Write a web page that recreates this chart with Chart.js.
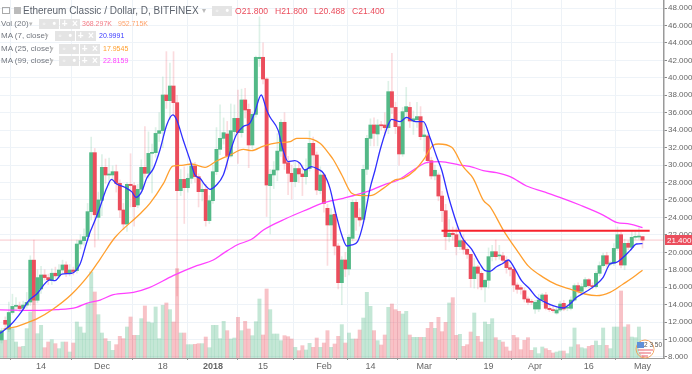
<!DOCTYPE html>
<html><head><meta charset="utf-8">
<style>
html,body{margin:0;padding:0;background:#fff;overflow:hidden;width:692px;height:374px}
#wrap{position:relative;width:692px;height:374px;font-family:"Liberation Sans",Arial,sans-serif}
canvas{position:absolute;left:0;top:0}
.t{position:absolute;white-space:nowrap;line-height:12px;color:#73777f;font-size:8px}
.b{position:absolute;width:10px;height:10px;background:#e4e4e4;color:#fff;font-size:10px;line-height:10px;text-align:center;font-weight:bold}
</style></head><body>
<div id="wrap"><canvas id="c" width="692" height="374"></canvas>
<div id="legend"></div></div>
<script src="https://cdn.jsdelivr.net/npm/chart.js@4"></script>
<script>
const tickDays=[12,29,46,60,74,91,104,119,137,150,165,180];
const tickLabels=["14","Dec","18","2018","15","Feb","14","Mar","19","Apr","16","May"];
const opens=[9.6,9.95,12.2,11.2,13.1,13.8,13.85,13.6,13.95,14.3,
19.1,14.5,15.8,17.4,17.1,16.75,17.6,17.3,17.97,18.55,
17.6,17.97,17.9,20.95,21.33,21.8,24.66,31.42,24,25.96,
29.74,28.86,28.86,29.24,27.9,24.85,23.24,27.79,27.64,25.42,
27.22,29.74,29.05,31.34,31.42,33.63,33.94,38.03,37.38,39.06,
37.15,27.06,28.36,27.41,28.48,29.89,28.67,26.95,27.22,23.63,
25.92,29.24,31.8,33.06,33.56,31.04,33.83,35.35,33.71,37.46,
36.38,32.3,35.81,42.2,42.35,39.86,27.64,28.86,29.43,31.6,
34.9,30.27,29.05,28.1,29.6,28.98,28.67,29.6,32.49,31.15,
27.07,28.86,25.04,23.13,24.35,20.72,16.52,19.12,18.09,21.6,
25.73,24,23.78,29.51,33.06,34.59,33.56,34.59,34.59,34.28,
38.41,36.61,34.4,31.27,36.12,36.61,35.05,35.2,35.55,33.25,
33.33,30.5,28.75,28.86,26.45,24.77,21.79,22.18,22.02,20.65,
21.33,20.34,19.77,16.98,18.32,17.59,16.03,16.79,19.5,20.07,
19.58,19.6,19.08,18.24,18.05,16.25,15.95,15.6,14.65,14.38,
13.5,13.5,14.53,15.11,13.58,13.43,13.04,13.39,14.15,13.6,
13.58,14.53,16.18,15.53,16.06,16.86,16.18,16.06,17.59,18.47,
19.61,18.66,18.74,20.45,22.02,18.54,21.03,20.57,21.72,21.75,
21.8];
const closes=[9.95,11,11.75,13.1,13.8,13.85,13.55,13.95,14.25,19.1,
14.5,17.1,17.4,17.1,16.85,17.6,17.3,17.97,18.55,17.6,
17.97,17.8,20.95,21.33,21.79,24.66,31.42,24.3,26,29.74,
28.86,28.95,29.24,27.9,24.85,23.24,27.79,27.65,25.23,27.22,
29.74,29.05,31.34,31.42,33.63,33.94,38.03,37.38,39.06,37.15,
27.06,28.36,27.41,28.48,29.89,28.67,26.95,27.22,23.63,25.92,
29.24,31.8,33.06,33.71,31.04,33.94,35.35,33.71,37.46,36.31,
32.3,35.81,42.35,42.35,39.86,27.71,28.94,29.43,31.6,34.9,
30.2,29.05,28.1,29.6,28.98,28.67,29.5,32.49,31.15,27.14,
28.86,25.6,23.13,24.28,20.72,16.52,19.12,18.09,21.72,25.73,
24,23.7,29.51,33.06,34.59,33.63,34.59,34.5,34.28,38.41,
36.61,34.4,31.27,36.12,36.69,35.05,35.3,35.55,33.25,33.45,
30.5,28.75,29.4,26.45,24.77,21.79,22.18,22.02,20.65,21.33,
20.34,19.77,16.98,18.32,17.59,16.03,16.79,19.5,20.07,19.5,
19.69,19.08,18.24,18.05,16.25,15.76,15.76,14.65,14.27,14.27,
14.27,14.53,15.11,13.58,13.43,13.31,13.39,14.07,13.5,13.7,
14.53,16.18,15.53,16.06,16.86,16.18,16.06,17.59,18.47,19.61,
18.66,18.74,20.45,22.02,18.54,21.03,20.57,21.72,21.8,21.8,
21.4];
const highs=[10.2,11.3,12.6,14.3,15.2,14.8,14.3,14.4,15.4,19.6,
21.4,18,18.4,18,17.5,18.1,18.3,18.6,19.1,18.9,
18.6,18.3,21.4,22,22.7,25.6,33.2,31.9,26.9,31.2,
30.7,30.8,29.9,30,28.3,25.6,28,31.3,28,27.8,
30.6,34.4,33.8,32.4,34.3,36,40.1,43,41.7,43,
38,29.5,29.8,29,30.3,30.3,29,28,27.8,26.5,
30,34.3,36.9,35.4,35,37,36.9,38.6,38.7,38.8,
37,36.1,42.5,47,44,40,29.5,30.4,33.6,35.2,
36,31,30,30.3,30.3,30,30.7,33.9,33.2,31.5,
29.8,29,25.5,25,25.2,21,19.5,20,22,26,
26,25,30,33.4,35.3,35.4,35.2,35,36,39.6,
42.8,37.2,34.7,36.6,38.9,37.2,36.2,37.2,36.7,34.9,
33.5,30.9,30,29.1,27,25.5,23.8,22.9,22.8,22,
22,20.5,19.8,19.3,18.5,17.8,16.9,20.5,20.8,21.4,
20.8,20,19.5,18.5,18.2,16.5,16.2,15.9,14.9,14.6,
14.5,15.2,15.3,15.4,13.9,13.8,13.7,14.4,14.5,14,
14.9,16.4,16.5,16.4,17.1,17,16.5,17.8,18.9,19.9,
20,19,21,22.9,22.3,21.5,21.3,22.4,22.5,22.8,
21.8];
const lows=[9.2,9.6,11.2,10.9,12.9,13.3,13.2,13.3,13.6,13.9,
14,14.2,15.3,16.8,16.3,16.3,17,17,17.6,17.2,
17.3,17.4,17.6,20.4,20.8,21.4,23.7,20.6,21.5,24.2,
27.9,27.7,28.2,26.9,24,22.6,22.4,25.2,23,25.1,
26.7,28.6,28.5,26.8,30.9,32.7,32,36.5,35.2,35.7,
15,26.5,23.3,26.9,27.9,28,25.2,25.9,23,23.3,
25.6,28.9,31.2,32.4,29.5,30.9,33.3,30.2,33.2,35.4,
29.7,31.9,35.5,41.3,39.3,24.1,22.1,27.3,28.2,31,
29.5,26.6,26.1,27.5,28,26.5,27.8,29.3,30,26.6,
26.7,24.6,18.5,21.5,19.7,15.8,14,17.2,17.4,21.3,
22.5,23,23.4,28.9,32.2,32.2,32.2,34,33.4,33.6,
35.9,33.6,30,31,35.2,34.3,33.5,34.3,32.9,31.6,
30.2,28.4,28.3,25.9,23.5,20.3,21.2,21.4,19.7,20.3,
19.8,19.3,16,15.9,15.8,15.7,14.3,15.9,19,19.1,
19.2,18.8,17.6,17.3,15.5,15.3,15.2,14.3,14,14,
13,13.2,14.2,13.4,13.2,13.1,12.9,13.2,13.3,13.3,
13.4,14.4,15.3,15.4,15.9,16,15.8,15.9,17.3,18.3,
18.3,18.5,18.5,20.2,18.2,18,20.3,20.4,21.5,21.5,
20.488];
const volumes=[500,693,693,1608,1150,627,431,457,1150,1804,
2235,954,1281,405,627,719,562,366,627,627,
235,588,1412,1215,980,2130,3372,2588,1699,980,
758,654,301,523,850,758,1215,1608,889,889,
1542,2039,1412,1372,2000,758,2065,2157,1895,1412,
3503,980,980,523,523,536,562,562,823,405,
1281,1281,758,1438,1072,745,784,1595,1072,1438,
1137,876,1425,2313,902,2705,1895,941,941,680,
876,836,745,418,288,484,314,575,418,784,
418,588,1072,418,549,850,1307,588,980,745,
745,1098,1568,2575,2026,1072,680,510,902,1987,
2117,1895,1830,1725,1830,902,810,810,810,810,
1163,1398,1163,1595,1032,1398,2157,2366,889,928,
457,523,1019,1764,850,627,1412,1320,1542,797,
693,627,431,274,889,797,327,693,797,301,
405,170,431,366,301,196,235,274,274,170,
431,1176,523,405,366,457,497,667,497,1176,
497,366,1215,1215,2627,1215,1307,823,797,1215,
368];
const ma7Days=[0.5,3.3,6.6,8.4,10.8,14.5,15.9,17.8,20.5,22.9,24.6,25.5,27.1,28.5,30.3,31.7,33.1,35.4,37.3,38.5,40.1,41.5,43.4,45.2,47.1,48.8,49.9,51.7,53.6,55,56.4,57.8,59.2,61,62.9,64.7,66.5,68.4,70.3,71.6,73.5,75,75.9,78.2,79.6,81,82.9,84.3,85.7,87.5,89.4,90.9,92.7,94.1,96,97.4,98.8,100.4,102,103.9,105.3,106.7,108.4,109.9,112.3,114.1,116.5,118.8,120.7,122.5,123.9,125.8,129.5,132.2,134.6,136,137.4,139.2,141.1,142.5,144.1,146.2,148.5,150.4,152.3,155,157.9,159.7,161.6,164.4,166.7,169,170.9,172.7,174.6,176.5,178.3,180];
const ma7Values=[10.71,11.6,13.23,14.38,15.22,16.83,16.75,17.51,17.59,18.66,20.95,22.1,23.7,25.23,27.33,28.36,27.83,27.45,26.95,26.3,26.95,28.48,29.62,31.72,34.59,35.74,35.16,32.87,30.58,28.86,28.48,27.71,27.22,27.71,28.86,31.34,33.44,34.4,34.78,35.93,38.03,36.31,35.54,34,31.72,30.39,30.5,30.2,29.43,29.81,29.51,29.05,27.33,24.85,21.98,20.72,20.84,21.22,23.32,27.33,29.43,31.72,34,35.24,34.97,35.47,34.97,34.97,33.06,30.96,29.43,26.37,21.79,20.38,18.66,17.9,17.82,18.35,18.74,19.12,18.28,16.75,15.79,14.84,14.38,13.88,13.62,14.07,14.84,15.53,16.18,17.13,18.66,18.85,19.42,20.19,20.95,20.9991];
const ma25Days=[1.5,5.2,8.4,10.8,15.4,20.6,25.7,28.5,32.7,39.6,42.4,46.2,48.8,51.3,54,57.8,61,64.8,68.5,70.8,74.1,78.3,81.6,83.4,86.2,89.9,92.7,93.7,96,98.8,101.6,103.9,107.6,110.9,113.2,116.5,118.8,121.6,123,126.7,129.9,132.7,135.5,137.4,141.1,145.3,148,152.3,156,160.2,163.9,167.2,170.9,174.6,177.4,180];
const ma25Values=[11.2,11.48,11.97,12.36,13.5,15.22,17.59,19.23,21.72,24.39,25.61,27.9,29.89,29.97,30.12,29.74,30.46,31.15,31.8,31.65,32.18,32.56,32.68,33.06,33.06,32.49,31.15,30.58,28.86,26.76,26.49,26.49,27.33,28.29,28.48,29.43,30.58,32.3,32.41,32.03,29.81,28.48,25.99,25.23,22.55,20,18.47,17.13,16.29,15.72,15.22,15.03,15.41,16.37,17.13,17.9545];
const ma99Days=[0.5,9.8,16.4,21.9,24.7,28.5,32.2,37.8,42.4,48.9,55.5,60.1,62.9,66.7,70.8,74.1,80.6,87.1,90.4,96.4,103,107.6,111.8,116,119.7,123.4,129,132.7,135.5,139.2,143,147.6,152.3,156.9,162.5,169,172.7,176.5,180];
const ma99Values=[13.39,13.35,13.43,13.69,14.15,14.53,15.15,15.41,15.98,17.32,18.47,19.12,19.88,20.84,21.49,22.56,23.9,25.04,25.61,26.19,26.95,27.71,28.29,29.43,30.27,30.39,30,29.74,29.35,29.13,28.67,27.6,26.95,26.3,25.42,24.27,23.43,23.24,22.8159];
const volMaDays=[0.5,3.3,6.1,8.9,11.7,16.4,21.9,24.7,27.1,29.4,32.2,35,38.7,41.5,43.8,46.2,48.9,51.3,55.5,60.1,64.8,67.6,71.3,76,80.6,86.2,91.8,95.5,99.2,103,107.6,111.3,114.1,118.8,121.6,123.4,127.1,130.8,135.5,139.2,143.4,147.6,151.3,156,159.7,163.4,168.1,172.7,175.5,180];
const volMaValues=[274,497,471,693,863,980,980,1150,1255,1150,1085,1111,1215,1372,1412,1281,1281,1451,1412,1281,1176,1072,941,1307,1229,1072,941,745,680,810,1006,1202,1398,1372,1425,1281,1477,1255,1150,1281,1124,823,797,588,405,497,471,627,850,952.7];
const lastClose=21.4, resistance=22.48;
const lineDays=[0.53,186], resistanceDays=[123.85,182];
const priceTicks=[48,46,44,42,40,38,36,34,32,30,28,26,24,22,20,18,16,14,12,10,8];

const up='#53b987', dn='#eb4d5c';
const isUp=i=>closes[i]>=opens[i];
const pts=(d,v)=>d.map((x,i)=>({x,y:v[i]}));
const days=opens.map((_,i)=>i);
const maLine=(label,d,v,color,w,order)=>({type:'line',label,data:pts(d,v),borderColor:color,borderWidth:w,pointRadius:0,cubicInterpolationMode:'monotone',order,yAxisID:'y'});

const overlay={id:'overlay',afterDraw(ch){
  const c=ch.ctx,y=ch.scales.y,py=y.getPixelForValue(lastClose),a=ch.chartArea;
  c.save();
  c.fillStyle=dn;c.fillRect(a.right+1,Math.round(py)-5,27,10);
  c.fillStyle='#fff';c.font='8px "Liberation Sans"';c.textBaseline='middle';c.textAlign='left';
  c.fillText(lastClose.toFixed(3),a.right+3,py+0.5);
  // watermark badge, bottom right of the volume pane
  const bx=a.right-19,by=a.bottom-9;
  c.beginPath();c.arc(bx,by,9,0,Math.PI*2);c.strokeStyle='#f3a35f';c.lineWidth=1;c.stroke();
  c.beginPath();c.arc(bx+1,by,7.5,0,Math.PI*2);c.fillStyle='rgba(255,255,255,.85)';c.fill();
  c.fillStyle='#5f8fd8';c.fillRect(bx-8,by-7,7,6);
  c.strokeStyle='#e8616c';c.lineWidth=1.2;
  c.beginPath();c.moveTo(bx-7,by+1);c.lineTo(bx+8,by+1);c.moveTo(bx-6,by+4);c.lineTo(bx+6,by+4);c.moveTo(bx-3,by+7);c.lineTo(bx+3,by+7);c.stroke();
  c.fillStyle='#555';c.font='6.5px "Liberation Sans"';c.textAlign='left';c.fillText('2 3 50',bx-1,by-4);
  c.restore();
}};

new Chart(document.getElementById('c'),{
  type:'bar',
  data:{datasets:[
    {label:'Volume',yAxisID:'vol',data:days.map(i=>({x:i,y:volumes[i]})),barThickness:3.3,grouped:false,order:9,
      backgroundColor:days.map(i=>isUp(i)?'rgba(83,185,135,.34)':'rgba(235,77,92,.34)')},
    maLine('Vol MA',volMaDays,volMaValues,'rgba(255,152,80,.5)',1,8),
    {label:'Wick',yAxisID:'y',data:days.map(i=>({x:i,y:[lows[i],highs[i]]})),barThickness:1,grouped:false,order:7,
      backgroundColor:days.map(i=>isUp(i)?'rgba(83,185,135,.2)':'rgba(235,77,92,.2)')},
    {type:'line',label:'Last',data:pts(lineDays,[lastClose,lastClose]),borderColor:'rgba(235,77,92,.32)',borderWidth:1,pointRadius:0,order:6,yAxisID:'y'},
    {label:'Body',yAxisID:'y',data:days.map(i=>({x:i,y:[opens[i],closes[i]]})),barThickness:3.3,grouped:false,minBarLength:1,order:5,
      backgroundColor:days.map(i=>isUp(i)?up:dn)},
    maLine('MA 99',ma99Days,ma99Values,'#ff40ff',1.3,4),
    maLine('MA 25',ma25Days,ma25Values,'#ff9f2e',1.3,3),
    maLine('MA 7',ma7Days,ma7Values,'#2f2fff',1.3,2),
    {type:'line',label:'Level',data:pts(resistanceDays,[resistance,resistance]),borderColor:'#f7222c',borderWidth:2,pointRadius:0,order:1,yAxisID:'y'}
  ]},
  options:{
    responsive:false,animation:false,
    layout:{padding:0},
    plugins:{legend:{display:false},tooltip:{enabled:false}},
    scales:{
      x:{type:'linear',min:0.53,max:186,offset:false,
        afterBuildTicks(s){s.ticks=tickDays.map(v=>({value:v}));},
        afterFit(s){s.height=16;s.paddingLeft=0;s.paddingRight=0;},
        grid:{color:'#edf2f7',tickColor:'#999',tickLength:2},
        border:{color:'#9a9a9a',width:1},
        ticks:{autoSkip:false,maxRotation:0,padding:1,color:'#666',
          callback:v=>tickLabels[tickDays.indexOf(v)],
          font:c=>({family:'"Liberation Sans"',size:9,weight:tickLabels[c.index]==='2018'?'bold':'normal'})}},
      y:{position:'right',min:7.885,max:48.917,
        afterBuildTicks(s){s.ticks=priceTicks.map(v=>({value:v}));},
        afterFit(s){s.width=28;s.paddingTop=0;s.paddingBottom=0;},
        grid:{color:'#eef3f8',tickColor:'#888',tickLength:3},
        border:{color:'#9a9a9a',width:1.5},
        ticks:{padding:1,color:'#666',callback:v=>v.toFixed(3),font:{family:'"Liberation Sans"',size:8}}},
      vol:{display:false,min:0,max:14033,position:'left'}
    }
  },
  plugins:[overlay]
});

const leg=document.getElementById('legend');
function t(x,y,s,color,size){const e=document.createElement('div');e.className='t';e.textContent=s;e.style.left=x+'px';e.style.top=(y-6)+'px';if(color)e.style.color=color;if(size)e.style.fontSize=size+'px';leg.appendChild(e);}
function icons(x,y,n){['◦','•','+','×'].slice(0,n).forEach((g,k)=>{const e=document.createElement('div');e.className='b';e.textContent=g;e.style.left=(x+k*10.3)+'px';e.style.top=(y-5)+'px';leg.appendChild(e);});}
const sq=document.createElement('div');sq.style.cssText='position:absolute;left:2px;top:7px;width:6px;height:5px;border:1px solid #aaa';leg.appendChild(sq);
const fl=document.createElement('div');fl.style.cssText='position:absolute;left:14px;top:7px;width:7px;height:7px;background:#bbb';leg.appendChild(fl);
t(23,10.5,'Ethereum Classic / Dollar, D, BITFINEX','#5d636d',10);
t(202,10.5,'▾','#bbb',8);icons(212,10.5,2);
t(235,11,'O21.800','#eb4d5c',8.6);t(275,11,'H21.800','#eb4d5c',8.6);t(314,11,'L20.488','#eb4d5c',8.6);t(352,11,'C21.400','#eb4d5c',8.6);
t(1,23.5,'Vol (20)');t(29,23.5,'▾','#bbb',7);icons(39,23.5,4);t(82,23.5,'368.297K','#f47c86',7);t(118,23.5,'952.715K','#ffa26a',7);
t(1,36,'MA (7, close)');t(45,36,'▾','#bbb',7);icons(55,36,4);t(99,36,'20.9991','#3b3bff',7);
t(1,48.5,'MA (25, close)');t(50,48.5,'▾','#bbb',7);icons(59,48.5,4);t(103,48.5,'17.9545','#ff9f2e',7);
t(1,61,'MA (99, close)');t(50,61,'▾','#bbb',7);icons(59,61,4);t(103,61,'22.8159','#ff40ff',7);
</script>
</body></html>
